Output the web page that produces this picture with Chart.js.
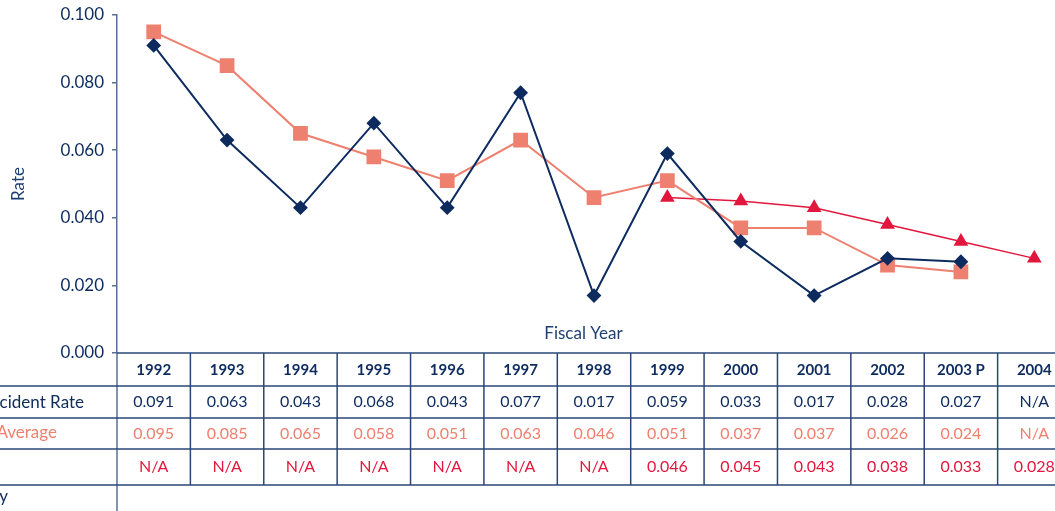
<!DOCTYPE html>
<html>
<head>
<meta charset="utf-8">
<script src="https://cdn.jsdelivr.net/npm/chart.js@4/dist/chart.umd.min.js"></script>
<style>
  html, body { margin: 0; padding: 0; background: #fff; overflow: hidden; }
  #wrap { width: 1082px; height: 511px; }
</style>
</head>
<body>
<div id="wrap"><canvas id="myChart" width="1082" height="511"></canvas></div>
<script>
var years = ["1992", "1993", "1994", "1995", "1996", "1997", "1998", "1999", "2000", "2001", "2002", "2003 P", "2004"];
var incidentRate = [0.091, 0.063, 0.043, 0.068, 0.043, 0.077, 0.017, 0.059, 0.033, 0.017, 0.028, 0.027, null];
var rollingAverage = [0.095, 0.085, 0.065, 0.058, 0.051, 0.063, 0.046, 0.051, 0.037, 0.037, 0.026, 0.024, null];
var goalRate = [null, null, null, null, null, null, null, 0.046, 0.045, 0.043, 0.038, 0.033, 0.028];
var rowLabels = ["Incident Rate", "3-Year Average", "Goal", "Industry"];
var yTicks = [0, 0.02, 0.04, 0.06, 0.08, 0.1];

var NAVY = '#0d2b5e';
var SALMON = '#ee8070';
var RED = '#e2173d';
var AXIS = '#5a6e95';
var FONT = 'Lato, "Open Sans", sans-serif';

// rows of the data table under the plot: top edge, bottom edge
var tableRows = [[353, 386], [386, 418], [418, 449], [449, 485]];

var tablePlugin = {
    id: 'dataTable',
    afterDraw: function(chart) {
        var ctx = chart.ctx;
        var x = chart.scales.x;
        var area = chart.chartArea;
        var step = x.getPixelForValue(1) - x.getPixelForValue(0);
        ctx.save();

        // "Fiscal Year" caption sits just above the axis
        ctx.fillStyle = '#1f3f73';
        ctx.font = '17px ' + FONT;
        ctx.textAlign = 'center';
        ctx.textBaseline = 'middle';
        ctx.fillText('Fiscal Year', (area.left + 1050) / 2, 334);

        // y axis continues down past the table
        ctx.strokeStyle = AXIS;
        ctx.lineWidth = 1.5;
        ctx.beginPath();
        ctx.moveTo(area.left, area.bottom);
        ctx.lineTo(area.left, chart.height);
        ctx.stroke();

        // horizontal rules
        ctx.strokeStyle = '#2a4677';
        ctx.lineWidth = 1.5;
        [386, 418, 449, 485].forEach(function(y) {
            ctx.beginPath();
            ctx.moveTo(0, y);
            ctx.lineTo(chart.width, y);
            ctx.stroke();
        });
        ctx.beginPath();
        ctx.moveTo(area.left, 353);
        ctx.lineTo(chart.width, 353);
        ctx.stroke();

        // column dividers
        for (var i = 1; i <= years.length; i++) {
            var cx = x.getPixelForValue(i) - step / 2;
            ctx.beginPath();
            ctx.moveTo(cx, 353);
            ctx.lineTo(cx, 485);
            ctx.stroke();
        }

        // header and cell values
        var rows = [
            { values: incidentRate, color: NAVY },
            { values: rollingAverage, color: SALMON },
            { values: goalRate, color: RED }
        ];
        years.forEach(function(yr, i) {
            var px = x.getPixelForValue(i);
            ctx.fillStyle = NAVY;
            ctx.font = 'bold 15px ' + FONT;
            ctx.fillText(yr, px, 370);
            ctx.font = '16px ' + FONT;
            rows.forEach(function(r, k) {
                var v = r.values[i];
                var mid = (tableRows[k + 1][0] + tableRows[k + 1][1]) / 2;
                ctx.fillStyle = (v === null && k === 0) ? NAVY : r.color;
                ctx.fillText(v === null ? 'N/A' : v.toFixed(3), px, mid);
            });
        });

        // row labels, partly running off the left edge
        ctx.font = '17px ' + FONT;
        ctx.textAlign = 'right';
        ctx.fillStyle = NAVY;
        ctx.fillText(rowLabels[0], 84, 403);
        ctx.fillStyle = SALMON;
        ctx.fillText(rowLabels[1], 57, 433);
        ctx.fillStyle = RED;
        ctx.fillText(rowLabels[2], -4, 466);
        ctx.fillStyle = NAVY;
        ctx.fillText(rowLabels[3], 8, 497);
        ctx.restore();
    }
};

var ctx = document.getElementById('myChart').getContext('2d');
var chart = new Chart(ctx, {
    type: 'line',
    data: {
        labels: years,
        datasets: [{
            label: 'Incident Rate',
            data: incidentRate,
            borderColor: NAVY,
            backgroundColor: NAVY,
            borderWidth: 2,
            pointStyle: 'rectRot',
            pointRadius: 6,
            pointHoverRadius: 6
        }, {
            label: '3-Year Average',
            data: rollingAverage,
            borderColor: SALMON,
            backgroundColor: SALMON,
            borderWidth: 2,
            pointStyle: 'rect',
            pointRadius: 9,
            pointHoverRadius: 9
        }, {
            label: 'Goal',
            data: goalRate,
            borderColor: RED,
            backgroundColor: RED,
            borderWidth: 1.5,
            pointStyle: 'triangle',
            pointRadius: 7,
            pointHoverRadius: 7
        }]
    },
    options: {
        responsive: false,
        animation: false,
        layout: { padding: { top: 15, bottom: 158, right: 2, left: 0 } },
        plugins: {
            legend: { display: false },
            tooltip: { enabled: false }
        },
        scales: {
            x: {
                type: 'category',
                offset: true,
                display: false
            },
            y: {
                min: 0,
                max: 0.1,
                afterBuildTicks: function(scale) {
                    scale.ticks = yTicks.map(function(v) { return { value: v }; });
                },
                afterFit: function(scale) {
                    scale.width = 117;
                    scale.paddingTop = 0;
                    scale.paddingBottom = 0;
                },
                grid: { drawOnChartArea: false, drawTicks: true, tickLength: 5, color: AXIS, lineWidth: 1.5 },
                border: { display: true, color: AXIS, width: 1.5 },
                ticks: {
                    padding: 8,
                    color: NAVY,
                    font: { family: FONT, size: 17 },
                    callback: function(v) { return v.toFixed(3); }
                },
                title: {
                    display: true,
                    text: 'Rate',
                    color: '#1f3f73',
                    font: { family: FONT, size: 17 },
                    padding: { top: 8, bottom: 0 }
                }
            }
        }
    },
    plugins: [tablePlugin]
});
</script>
</body>
</html>
